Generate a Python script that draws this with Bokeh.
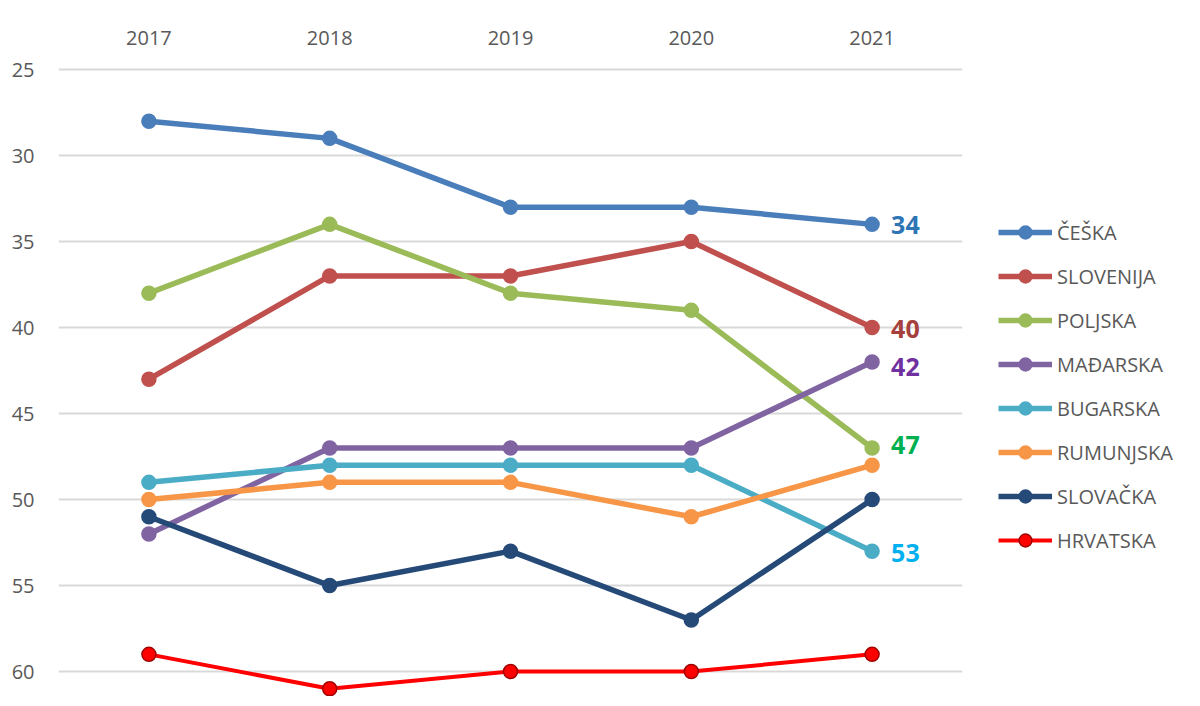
from bokeh.plotting import figure
from bokeh.models import Range1d, FixedTicker, Legend, LegendItem
from bokeh.embed import file_html
from bokeh.resources import INLINE
from bokeh.core.properties import value

years = [2017, 2018, 2019, 2020, 2021]
y_ticks = [25, 30, 35, 40, 45, 50, 55, 60]

names = ["ČEŠKA", "SLOVENIJA", "POLJSKA", "MAĐARSKA", "BUGARSKA", "RUMUNJSKA", "SLOVAČKA", "HRVATSKA"]
ceska = [28, 29, 33, 33, 34]
slovenija = [43, 37, 37, 35, 40]
poljska = [38, 34, 38, 39, 47]
madarska = [52, 47, 47, 47, 42]
bugarska = [49, 48, 48, 48, 53]
rumunjska = [50, 49, 49, 51, 48]
slovacka = [51, 55, 53, 57, 50]
hrvatska = [59, 61, 60, 60, 59]
series = [ceska, slovenija, poljska, madarska, bugarska, rumunjska, slovacka, hrvatska]

colors = ["#4a7ebb", "#c0504d", "#9bbb59", "#8064a2", "#4bacc6", "#f79646", "#264a78", "#ff0000"]
outline = ["#4a7ebb", "#c0504d", "#9bbb59", "#8064a2", "#4bacc6", "#f79646", "#264a78", "#a00000"]
widths = [5.5, 5.5, 5.5, 5.5, 5.5, 5.5, 5.5, 4]

# end labels (only some series labelled)
label_series = [0, 1, 2, 3, 4]
label_colors = ["#2e75b6", "#a5403c", "#00b050", "#7030a0", "#00b0f0"]
label_dy = [1, 1, -3, 5, 2]

FONT = "Open Sans"

p = figure(frame_width=904, frame_height=629, output_backend="svg", toolbar_location=None,
           x_range=Range1d(2016.5, 2021.5), y_range=Range1d(61.45, 24.88),
           x_axis_location="above", min_border_left=58, min_border_top=67,
           min_border_bottom=0, min_border_right=220)
p.outline_line_color = None
p.xgrid.grid_line_color = None
p.ygrid.grid_line_color = "#d9d9d9"
p.ygrid.grid_line_width = 2

p.xaxis.ticker = FixedTicker(ticks=years)
p.yaxis.ticker = FixedTicker(ticks=y_ticks)
for ax in (p.xaxis[0], p.yaxis[0]):
    ax.axis_line_color = None
    ax.major_tick_line_color = None
    ax.minor_tick_line_color = None
    ax.major_label_text_font = FONT
    ax.major_label_text_font_size = "20px"
    ax.major_label_text_color = "#595959"
p.xaxis.major_label_standoff = 17
p.yaxis.major_label_standoff = 18

items = []
for i, (name, ys) in enumerate(zip(names, series)):
    r1 = p.line(years, ys, line_color=colors[i], line_width=widths[i])
    r2 = p.scatter(years, ys, size=14, fill_color=colors[i], line_color=outline[i], line_width=1.5)
    items.append(LegendItem(label=name, renderers=[r1, r2]))

lx = [years[-1]] * len(label_series)
ly = [series[k][-1] for k in label_series]
lt = [str(series[k][-1]) for k in label_series]
p.text(x=lx, y=ly, text=lt, x_offset=19, y_offset=label_dy, text_baseline="middle",
       text_align="left", text_color=label_colors, text_font=value(FONT),
       text_font_style="bold", text_font_size="25px")

legend = Legend(items=items, location=(36, 140), margin=0, padding=0,
                border_line_color=None, background_fill_alpha=0,
                glyph_width=54, glyph_height=32, label_height=32, spacing=12,
                label_standoff=5, label_text_font=FONT, label_text_font_size="20px",
                label_text_color="#595959")
p.add_layout(legend, "right")

open("out.html", "w").write(file_html(p, INLINE))
